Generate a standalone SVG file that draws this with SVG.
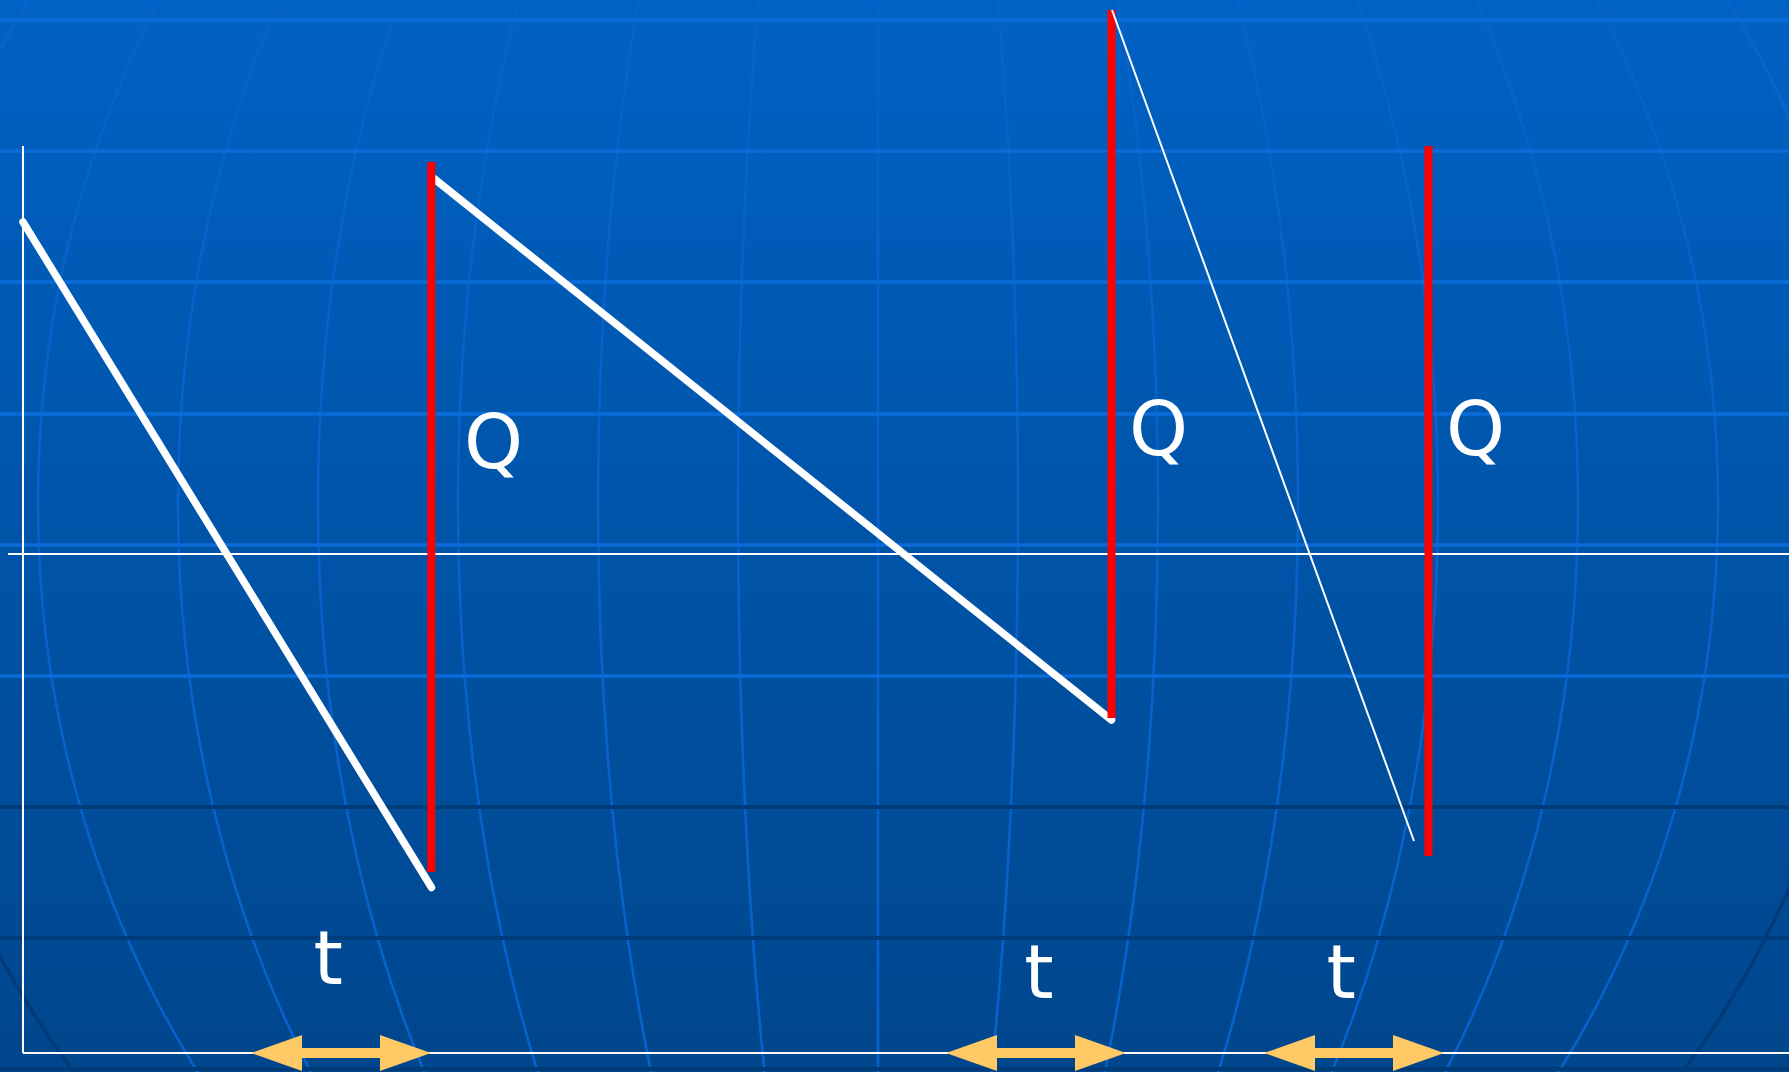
<svg xmlns="http://www.w3.org/2000/svg" width="1789" height="1072" viewBox="0 0 1789 1072">
<defs>
<linearGradient id="bg" x1="0" y1="0" x2="0" y2="1">
<stop offset="0" stop-color="#0062c4"/>
<stop offset="1" stop-color="#00468c"/>
</linearGradient>
<linearGradient id="rim" gradientUnits="userSpaceOnUse" x1="0" y1="0" x2="0" y2="1072">
<stop offset="0" stop-color="#0864cc"/>
<stop offset="0.6" stop-color="#0864cc"/>
<stop offset="0.72" stop-color="#003a78"/>
<stop offset="1" stop-color="#003a78"/>
</linearGradient>
<path id="dbl" d="M0,0 L51,-18 L51,-5 L129,-5 L129,-18 L180,0 L129,18 L129,5 L51,5 L51,18 Z"/>
<style>
.hl{stroke:#0a6cd8;stroke-width:3.5;fill:none}
.hd{stroke:#003c7a;stroke-width:4;fill:none}
.mer{stroke:#0862cb;stroke-width:2.6;fill:none}
.axis{stroke:#ffffff;stroke-width:2;fill:none}
.curve{stroke:#ffffff;stroke-width:7.5;stroke-linecap:round;fill:none}
.thin{stroke:#ffffff;stroke-width:2;fill:none}
.red{stroke:#ff0000;stroke-width:8;fill:none}
.lbl{font-family:"DejaVu Sans",Verdana,sans-serif;font-size:75px;fill:#ffffff}
.arr{fill:#ffc966}
</style>
</defs>
<g id="background">
<rect x="0" y="0" width="1789" height="1072" fill="url(#bg)"/>
<g id="meridians">
<line class="mer" x1="878" y1="0" x2="878" y2="1072"/>
<ellipse class="mer" cx="878" cy="503" rx="140" ry="970"/>
<ellipse class="mer" cx="878" cy="503" rx="280" ry="970"/>
<ellipse class="mer" cx="878" cy="503" rx="420" ry="970"/>
<ellipse class="mer" cx="878" cy="503" rx="560" ry="970"/>
<ellipse class="mer" cx="878" cy="503" rx="700" ry="970"/>
<ellipse class="mer" cx="878" cy="503" rx="840" ry="970"/>
<ellipse cx="878" cy="503" rx="993" ry="970" fill="none" stroke="url(#rim)" stroke-width="3.5"/>
</g>
<g id="parallels">
<line class="hl" x1="0" y1="20" x2="1789" y2="20"/>
<line class="hl" x1="0" y1="151" x2="1789" y2="151"/>
<line class="hl" x1="0" y1="282" x2="1789" y2="282"/>
<line class="hl" x1="0" y1="414" x2="1789" y2="414"/>
<line class="hl" x1="0" y1="545" x2="1789" y2="545"/>
<line class="hl" x1="0" y1="676" x2="1789" y2="676"/>
<line class="hd" x1="0" y1="807" x2="1789" y2="807"/>
<line class="hd" x1="0" y1="938" x2="1789" y2="938"/>
<line class="hd" x1="0" y1="1069" x2="1789" y2="1069"/>
</g>
</g>
<g id="axes">
<line class="axis" x1="23" y1="146" x2="23" y2="1053"/>
<line class="axis" x1="8" y1="554" x2="1789" y2="554"/>
<line class="axis" x1="23" y1="1053" x2="1789" y2="1053"/>
</g>
<g id="connectors">
<line id="ramp1" class="curve" x1="23" y1="222" x2="431.5" y2="887.5"/>
<line id="ramp2" class="curve" x1="432" y1="177" x2="1111.5" y2="720"/>
<line id="jump1" class="red" x1="431.3" y1="162" x2="431.3" y2="872"/>
<line id="jump2" class="red" x1="1111.5" y1="10" x2="1111.5" y2="718"/>
<line id="jump3" class="red" x1="1428.5" y1="146" x2="1428.5" y2="856"/>
<line id="ramp3" class="thin" x1="1112" y1="10" x2="1414" y2="841"/>
</g>
<g id="interval1">
<use href="#dbl" class="arr" x="251" y="1053"/>
<text class="lbl" x="313.5" y="984">t</text>
</g>
<g id="interval2">
<use href="#dbl" class="arr" x="946" y="1053"/>
<text class="lbl" x="1024.3" y="998">t</text>
</g>
<g id="interval3">
<use href="#dbl" class="arr" x="1264" y="1053"/>
<text class="lbl" x="1326.6" y="998">t</text>
</g>
<g id="label-q1"><text class="lbl" x="464" y="468">Q</text></g>
<g id="label-q2"><text class="lbl" x="1129" y="455">Q</text></g>
<g id="label-q3"><text class="lbl" x="1446" y="455">Q</text></g>
</svg>
